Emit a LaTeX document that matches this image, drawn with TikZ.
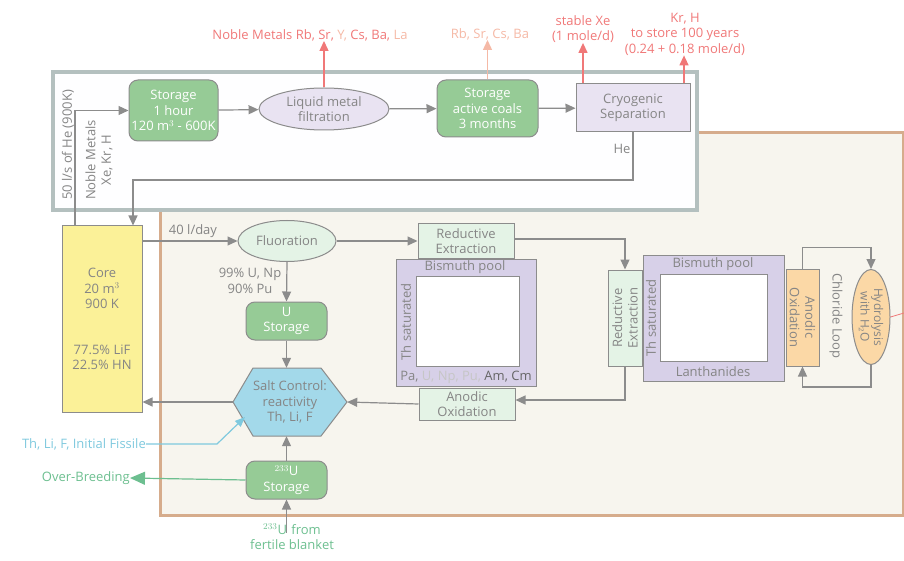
\documentclass[tikz,border=0pt]{standalone}
\usepackage{fontspec}
\setmainfont{Open Sans}
\usetikzlibrary{arrows.meta,positioning,shapes.geometric,calc}
\definecolor{stgreen}{HTML}{96CB96}
\definecolor{ltgreen}{HTML}{E4F3E6}
\definecolor{lav}{HTML}{E9E3F2}
\definecolor{poolc}{HTML}{D7D0E8}
\definecolor{coreyel}{HTML}{FBF198}
\definecolor{saltblue}{HTML}{A3D9EA}
\definecolor{orng}{HTML}{FBD8A6}
\definecolor{txtgray}{HTML}{858585}
\definecolor{lngray}{HTML}{8C8C8C}
\definecolor{frgray}{HTML}{B4C0BF}
\definecolor{tanc}{HTML}{D6AC8C}
\definecolor{beige}{HTML}{F7F5EE}
\definecolor{salmon}{HTML}{F07878}
\definecolor{pale}{HTML}{F5B9A6}
\definecolor{cyanish}{HTML}{7FC9DE}
\definecolor{mint}{HTML}{6DBF90}

\begin{document}
\begin{tikzpicture}[x=1pt,y=-1pt,
  every node/.style={font=\fontsize{13}{15.5}\selectfont,text=txtgray,align=center,inner sep=0pt},
  flow/.style={draw=lngray,line width=1.2pt,-{Triangle[length=10pt,width=9pt]}},
  redflow/.style={draw=salmon,line width=1.3pt,-{Triangle[length=10pt,width=9pt]}},
  stbox/.style={draw=lngray,line width=1pt,fill=stgreen,rounded corners=9pt,text=white},
  procbox/.style={draw=lngray,line width=1pt,fill=ltgreen},
  poolbox/.style={draw=lngray,line width=1pt,fill=poolc},
  oval/.style={draw=lngray,line width=1pt,ellipse}]
\useasboundingbox (0,0) rectangle (904,561);

\node[draw=tanc,line width=3pt,fill=beige,minimum width=743,minimum height=382] (plant) at (531.5,324) {};
\node[draw=frgray,line width=4pt,fill=white!97!lav,minimum width=644,minimum height=138] (gas) at (375,141) {};

\node[stbox,minimum width=89,minimum height=61] (store1) at (173.5,110.5) {Storage\\1 hour\\120 m$^3$ - 600K};
\node[oval,fill=lav,minimum width=130,minimum height=42] (filt) at (324,109) {Liquid metal\\filtration};
\node[stbox,minimum width=101,minimum height=57] (store2) at (487.5,108.5) {Storage\\active coals\\3 months};
\node[draw=lngray,line width=1pt,fill=lav,minimum width=114,minimum height=48] (cryo) at (633,108) {Cryogenic\\Separation};
\draw[flow] (store1) -- (filt);
\draw[flow] (filt) -- (store2);
\draw[flow] (store2) -- (cryo);

\node (nm) at (310,35) {\color{salmon}Noble Metals Rb, Sr, \color{pale}Y, \color{salmon}Cs, Ba, \color{pale}La};
\node[text=pale] (rbsr) at (490,34) {Rb, Sr, Cs, Ba};
\node[text=salmon] (xe) at (583,29) {stable Xe\\(1 mole/d)};
\node[text=salmon] (krh) at (685,34) {Kr, H\\to store 100 years\\(0.24 + 0.18 mole/d)};
\draw[redflow] (filt.north) -- (filt.north |- nm.south);
\draw[redflow,draw=pale] (store2.north) -- (store2.north |- rbsr.south);
\draw[redflow] (cryo.north -| xe) -- (xe.south);
\draw[redflow] ([xshift=51pt]cryo.north) -- ([xshift=51pt]cryo.north |- krh.south);

\node[draw=lngray,line width=1pt,fill=coreyel,minimum width=80,minimum height=186] (core) at (102,319) {Core\\20 m$^3$\\900 K\\[30pt]77.5\% LiF\\22.5\% HN};
\coordinate (hein) at (75,110);
\coordinate (hebend) at (133,180);
\draw[flow] (core.north -| hein) |- (store1.west);
\draw[flow] (cryo.south) |- (hebend) -- (hebend |- core.north);
\node (he) at (622,149) {He};
\node[rotate=90] (flowhe) at (68,145) {50 l/s of He (900K)};
\node[rotate=90] (nmxe) at (99,160) {Noble Metals\\Xe, Kr, H};

\node[oval,fill=ltgreen,minimum width=98,minimum height=41] (fluor) at (287,241) {Fluoration};
\draw[flow] (core.east |- fluor) -- (fluor.west);
\node (lday) at (193,231) {40 l/day};
\node[stbox,minimum width=81,minimum height=38] (ustore) at (286.5,321) {U\\Storage};
\draw[flow] (fluor.south) -- (ustore.north);
\node (upct) at (250,281) {99\% U, Np\\90\% Pu};

\fill[saltblue,draw=lngray,line width=1pt] (233,402) -- (253,368) -- (321,368) -- (347,402) -- (321,436) -- (253,436) -- cycle;
\node[minimum width=114,minimum height=68] (salt) at (290,402) {Salt Control:\\reactivity\\Th, Li, F};
\draw[flow] (ustore.south) -- (salt.north -| ustore.south);
\draw[flow] (salt.west) -- (core.east |- salt.west);

\node[stbox,minimum width=81,minimum height=38] (u233) at (286.5,480) {$^{233}$U\\Storage};
\draw[flow] (u233.north) -- (u233.north |- salt.south);
\node[text=mint] (blanket) at (292,537) {$^{233}$U\,\,from\\fertile blanket};
\draw[flow] ([yshift=-9pt]blanket.north -| u233.south) -- (u233.south);
\node[text=mint,anchor=east] (overb) at (130,478) {Over-Breeding};
\draw[draw=mint,line width=1.2pt,-{Triangle[length=15pt,width=13pt]}] (u233.west) -- (overb.east);
\node[text=cyanish,anchor=east] (thli) at (146,444) {Th, Li, F, Initial Fissile};
\coordinate (thbend) at (217,444);
\coordinate (saltin) at (245,417);
\draw[draw=cyanish,line width=1.2pt,-{Triangle[length=10pt,width=8pt]}] (thli.east) -- (thbend) -- (saltin);

\node[poolbox,minimum width=140,minimum height=127] (pool1) at (466,322.5) {};
\node[draw=lngray,line width=1pt,fill=white,minimum width=103,minimum height=90] (in1) at (467.5,321) {};
\node (bp1) at (465,267) {Bismuth pool};
\node[rotate=90] (th1) at (406,322) {Th saturated};
\node (act) at (466,377) {Pa, \color{gray!45}U, Np, Pu, \color{black!60}Am, Cm};
\node[procbox,minimum width=96,minimum height=34] (re1) at (466,241) {Reductive\\Extraction};
\node[procbox,minimum width=96,minimum height=32] (ao1) at (467,404) {Anodic\\Oxidation};
\draw[flow] (fluor.east) -- (re1.west);
\draw[flow] (ao1.west) -- (salt.east);

\node[procbox,rotate=90,minimum width=96,minimum height=34] (re2) at (625,318) {Reductive\\Extraction};
\draw[flow] ([yshift=2pt]re1.east) -| (re2.east);
\draw[flow] (re2.west) |- ([yshift=4pt]ao1.east);

\node[poolbox,minimum width=141,minimum height=126] (pool2) at (713.5,318) {};
\node[draw=lngray,line width=1pt,fill=white,minimum width=107,minimum height=87] (in2) at (713.5,317.5) {};
\node (bp2) at (713,264) {Bismuth pool};
\node[rotate=90] (th2) at (651,318) {Th saturated};
\node (lanth) at (713,372) {Lanthanides};

\node[draw=lngray,line width=1pt,fill=orng,rotate=-90,minimum width=97,minimum height=33] (ao2) at (802.5,317.5) {Anodic\\Oxidation};
\node[rotate=-90] (cloop) at (836,316) {Chloride Loop};
\node[oval,fill=orng,rotate=-90,minimum width=95,minimum height=38,font=\fontsize{12}{13.5}\selectfont] (hydro) at (871,317) {Hydrolysis\\with H$_2$O};
\draw[flow] (ao2.west) -- ++(0,-21) -| (hydro.west);
\draw[flow] (hydro.east) -- ++(0,22) -| (ao2.east);
\coordinate (redout) at (904,313);
\draw[draw=salmon,line width=0.8pt] (hydro.north) -- (redout);
\end{tikzpicture}
\end{document}
